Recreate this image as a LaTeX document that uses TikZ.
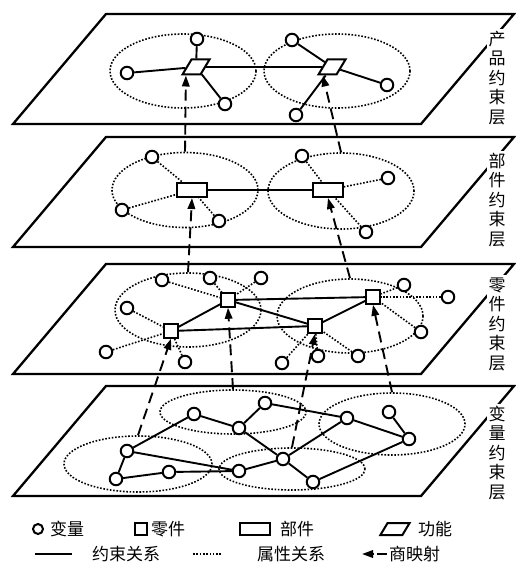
\documentclass[tikz,border=0pt]{standalone}
\usepackage{fontspec}
\setmainfont{Noto Sans CJK SC}
\usetikzlibrary{
  arrows.meta,
  shapes.geometric,
  calc
}
\tikzset{
  layer/.style={draw, line width=2.3pt, line join=miter},
  var/.style={circle, draw, fill=white, minimum size=12.5pt, inner sep=0pt, line width=2pt},
  part/.style={rectangle, draw, fill=white, minimum size=13.5pt, inner sep=0pt, line width=2pt},
  comp/.style={rectangle, draw, fill=white, minimum width=30pt, minimum height=14pt, inner sep=0pt, line width=2pt},
  func/.style={rectangle, xslant=0.6, transform shape,
    draw, fill=white, minimum width=18pt, minimum height=15pt, inner sep=0pt, line width=2pt},
  grp/.style={ellipse, draw, line width=1.6pt, dash pattern=on 1.6pt off 1.7pt, inner sep=0pt},
  cons/.style={line width=1.9pt},
  attr/.style={line width=1.6pt, dash pattern=on 1.6pt off 1.7pt},
  qmap/.style={-{Triangle[length=11pt, width=7.5pt]}, line width=1.9pt, dash pattern=on 11pt off 6pt},
  layertag/.style={fill=white, inner sep=2pt, align=center, font=\fontsize{17}{19.5}\selectfont},
  legtext/.style={anchor=west, inner sep=0pt, font=\fontsize{17}{18}\selectfont}
}
\begin{document}
\begin{tikzpicture}[x=1pt, y=-1pt]
  \useasboundingbox (0,0) rectangle (515,564);

  % four layers
  \foreach \t in {14,137,264,386}
    \draw[layer] (106,\t) -- (514,\t) -- (421,\t+110) -- (13,\t+110) -- cycle;
  \node[layertag] (t1) at (497,78) {产\\品\\约\\束\\层};
  \node[layertag] (t2) at (497,200) {部\\件\\约\\束\\层};
  \node[layertag] (t3) at (497,324) {零\\件\\约\\束\\层};
  \node[layertag] (t4) at (497,453) {变\\量\\约\\束\\层};

  % product layer
  \node[grp, minimum width=146pt, minimum height=74pt] (g11) at (183,71) {};
  \node[grp, minimum width=146pt, minimum height=74pt] (g12) at (337,71) {};
  \node[func] (f1) at (196,67) {};
  \node[func] (f2) at (332,67) {};
  \node[var] (a1) at (127,73) {};
  \node[var] (a2) at (197,39) {};
  \node[var] (a3) at (225,104) {};
  \node[var] (a4) at (292,40) {};
  \node[var] (a5) at (387,85) {};
  \node[var] (a6) at (296,115) {};
  \draw[cons] (a1) -- (f1);
  \draw[cons] (a2) -- (f1);
  \draw[cons] (f1) -- (a3);
  \draw[cons] (f1) -- (f2);
  \draw[cons] (f2) -- (a4);
  \draw[cons] (f2) -- (a5);
  \draw[cons] (f2) -- (a6);

  % component layer
  \node[grp, minimum width=146pt, minimum height=75pt] (g21) at (185,190) {};
  \node[grp, minimum width=146pt, minimum height=76pt] (g22) at (341,191) {};
  \node[comp] (c1) at (192,190) {};
  \node[comp] (c2) at (328,190) {};
  \node[var] (b1) at (152,157) {};
  \node[var] (b2) at (122,210) {};
  \node[var] (b3) at (219,221) {};
  \node[var] (b4) at (302,156) {};
  \node[var] (b5) at (388,178) {};
  \node[var] (b6) at (366,232) {};
  \draw[cons] (c1) -- (c2);
  \foreach \b in {b1,b2,b3} \draw[attr] (\b) -- (c1);
  \foreach \b in {b4,b5,b6} \draw[attr] (\b) -- (c2);

  % part layer
  \node[grp, minimum width=146pt, minimum height=74pt] (g31) at (188,310) {};
  \node[grp, minimum width=146pt, minimum height=74pt] (g32) at (350,316) {};
  \node[part] (p1) at (228,300) {};
  \node[part] (p2) at (171,331) {};
  \node[part] (p3) at (315,326) {};
  \node[part] (p4) at (373,297) {};
  \foreach \n/\x/\y in {q1/162/280, q2/210/278, q3/261/278, q4/127/308, q5/106/352, q6/185/362,
                        q7/282/363, q8/318/356, q9/358/356, q10/404/285, q11/448/297, q12/421/332}
    \node[var] (\n) at (\x,\y) {};
  \foreach \q in {q1,q2,q3} \draw[attr] (\q) -- (p1);
  \foreach \q in {q4,q5,q6} \draw[attr] (\q) -- (p2);
  \foreach \q in {q7,q8,q9} \draw[attr] (\q) -- (p3);
  \foreach \q in {q10,q11,q12} \draw[attr] (\q) -- (p4);
  \draw[cons] (p1) -- (p2);
  \draw[cons] (p1) -- (p4);
  \draw[cons] (p1) -- (p3);
  \draw[cons] (p2) -- (p3);
  \draw[cons] (p3) -- (p4);

  % variable layer
  \node[grp, minimum width=148pt, minimum height=56pt] (g41) at (138,464) {};
  \node[grp, minimum width=146pt, minimum height=44pt] (g42) at (233,412) {};
  \node[grp, minimum width=146pt, minimum height=62pt] (g43) at (392,424) {};
  \node[grp, minimum width=146pt, minimum height=42pt] (g44) at (292,469) {};
  \foreach \n/\x/\y in {v1/127/451, v2/116/479, v3/169/472, v4/194/414, v5/239/428, v6/265/403,
                        v7/239/471, v8/283/459, v9/313/482, v10/347/418, v11/389/412, v12/409/439}
    \node[var] (\n) at (\x,\y) {};
  \foreach \u/\w in {v1/v2, v2/v3, v3/v7, v1/v4, v1/v7, v4/v5, v5/v6, v6/v10, v5/v8,
                     v7/v8, v8/v10, v8/v9, v9/v12, v10/v12, v11/v12}
    \draw[cons] (\u) -- (\w);

  % quotient maps
  \draw[qmap] (g21.north) -- ($(f1.south)+(-5,0)$);
  \draw[qmap] (g22.north) -- ($(f2.south)+(-4,0)$);
  \draw[qmap] (g31.north) -- (c1.south);
  \draw[qmap] (g32.north) -- (c2.south);
  \draw[qmap] (g41.north) -- (p2.south);
  \draw[qmap] (g42.north) -- (p1.south);
  \draw[qmap] (g44.north) -- (p3.south);
  \draw[qmap] (g43.north) -- (p4.south);

  % legend
  \node[var, minimum size=10pt] (k1) at (38,529) {};
  \node[legtext] at (50,529) {变量};
  \node[part, minimum size=12pt] (k2) at (141,529) {};
  \node[legtext] at (151,529) {零件};
  \node[comp, minimum height=12pt] (k3) at (255,529) {};
  \node[legtext] at (280,529) {部件};
  \node[func, minimum width=22pt, minimum height=12pt] (k4) at (395,529) {};
  \node[legtext] at (418,529) {功能};
  \coordinate (l1a) at (35,554);
  \coordinate (l1b) at (72,554);
  \coordinate (l2a) at (193,554);
  \coordinate (l2b) at (222,554);
  \coordinate (l3a) at (387,554);
  \coordinate (l3b) at (362,554);
  \draw[cons] (l1a) -- (l1b);
  \node[legtext] at (92,554) {约束关系};
  \draw[attr] (l2a) -- (l2b);
  \node[legtext] at (257,554) {属性关系};
  \draw[qmap, dash pattern=on 10pt off 3pt] (l3a) -- (l3b);
  \node[legtext] at (389,554) {商映射};
\end{tikzpicture}
\end{document}
